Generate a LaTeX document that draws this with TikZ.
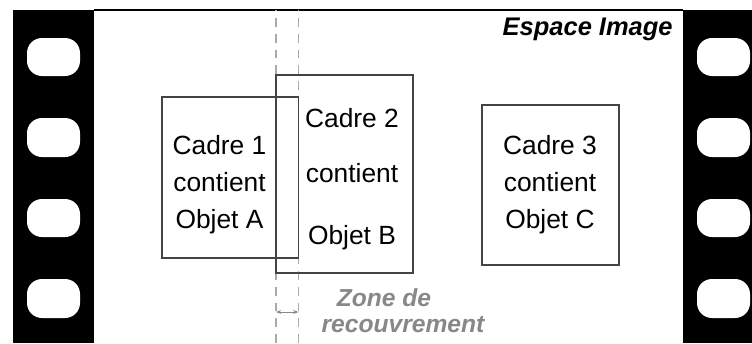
\documentclass[tikz,border=0pt]{standalone}
\usepackage{fontspec}
\setmainfont{Liberation Sans}
\usetikzlibrary{arrows.meta}
\definecolor{framegray}{HTML}{444444}
\definecolor{dashgray}{HTML}{AAAAAA}
\definecolor{zonegray}{HTML}{888888}
\tikzset{
  hole/.style={fill=white, rounded corners=0.3cm},
  cadre/.style={draw=framegray, line width=0.6pt},
  label/.style={anchor=base, font=\fontsize{15}{18}\selectfont, inner sep=0pt},
  zonetext/.style={anchor=base, inner sep=0pt, text=zonegray, font=\fontsize{14}{16}\selectfont\bfseries\itshape},
  guide/.style={draw=dashgray, dashed, dash pattern=on 5pt off 4pt, line width=0.6pt}
}
\begin{document}
\begin{tikzpicture}
    \useasboundingbox (0,0) rectangle (15.04,6.86);
    % Film strips
    \fill[black] (0.26,0) rectangle (1.88,6.66);
    \fill[black] (13.66,0) rectangle (15.04,6.66);
    \draw[line width=0.8pt] (1.88,6.66) -- (13.66,6.66);
    % Perforations
    \foreach \yb/\yt in {5.34/6.10, 3.72/4.50, 2.12/2.88, 0.50/1.28} {
        \fill[hole] (0.54,\yb) rectangle (1.60,\yt);
        \fill[hole] (13.94,\yb) rectangle (15.00,\yt);
    }
    \node[anchor=base east, inner sep=0pt, font=\fontsize{14.5}{17}\selectfont\bfseries\itshape] (espace) at (13.46,6.16) {Espace Image};
    % Overlap guides
    \coordinate (gl) at (5.52,0);
    \coordinate (gr) at (5.97,0);
    \draw[guide] (gl) -- ++(0,6.66);
    \draw[guide] (gr) -- ++(0,6.66);
    % Frames
    \draw[cadre] (3.24,1.70) rectangle (5.97,4.92);
    \draw[cadre] (5.52,1.40) rectangle (8.26,5.36);
    \draw[cadre] (9.64,1.56) rectangle (12.38,4.76);
    % Frame texts
    \node[label] (c1a) at (4.39,3.78) {Cadre 1};
    \node[label] (c1b) at (4.39,3.03) {contient};
    \node[label] (c1c) at (4.39,2.29) {Objet A};
    \node[label] (c2a) at (7.04,4.32) {Cadre 2};
    \node[label] (c2b) at (7.04,3.22) {contient};
    \node[label] (c2c) at (7.04,1.98) {Objet B};
    \node[label] (c3a) at (11.00,3.78) {Cadre 3};
    \node[label] (c3b) at (11.00,3.03) {contient};
    \node[label] (c3c) at (11.00,2.29) {Objet C};
    % Overlap zone
    \coordinate (al) at (5.52,0.62);
    \coordinate (ar) at (5.97,0.62);
    \draw[draw=zonegray, line width=0.5pt, {Stealth[length=3pt]}-{Stealth[length=3pt]}] (al) -- (ar);
    \node[zonetext] (zone1) at (7.68,0.74) {Zone de};
    \node[zonetext] (zone2) at (8.06,0.22) {recouvrement};
\end{tikzpicture}
\end{document}
